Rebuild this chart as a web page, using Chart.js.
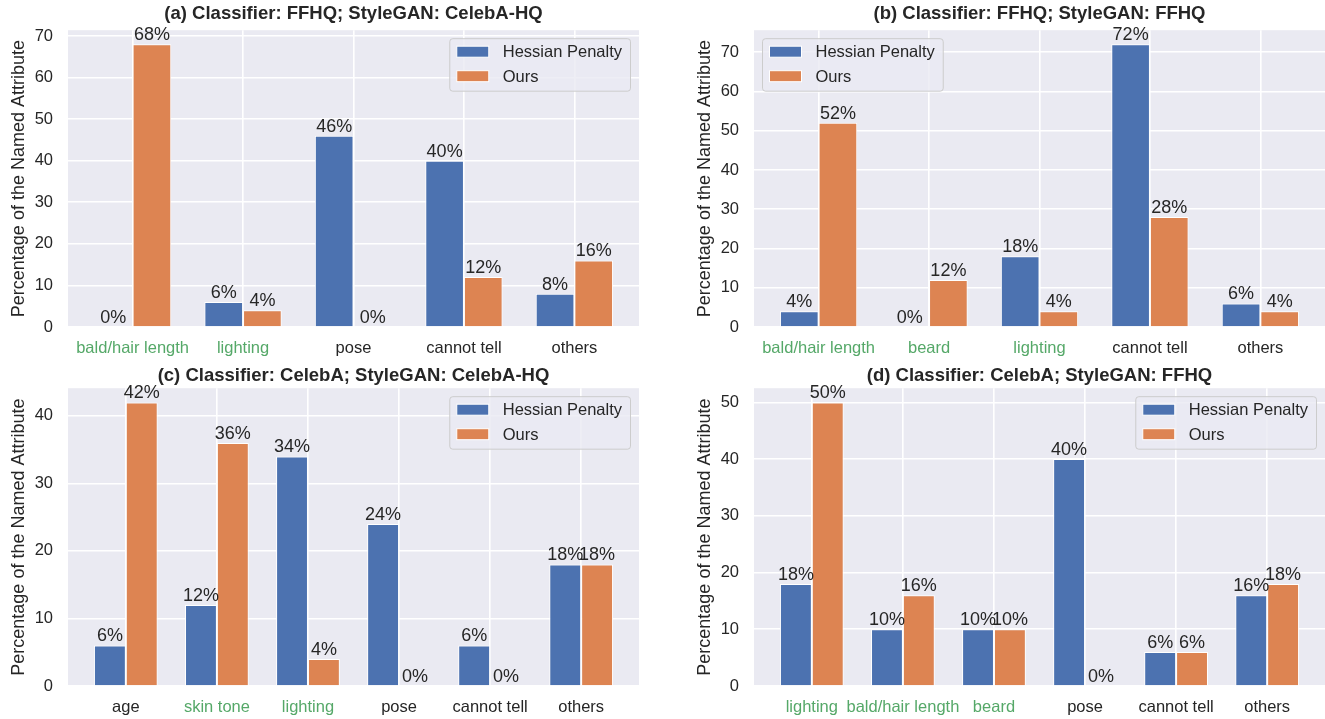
<!DOCTYPE html>
<html><head><meta charset="utf-8">
<script src="https://cdn.jsdelivr.net/npm/chart.js@4"></script>
<style>
html,body{margin:0;padding:0;background:#fff;width:1325px;height:719px;overflow:hidden;}
canvas{position:absolute;display:block;}
</style></head><body>
<canvas id="ca" width="660" height="357" style="left:0;top:0"></canvas>
<canvas id="cb" width="639" height="357" style="left:686px;top:0"></canvas>
<canvas id="cc" width="660" height="361" style="left:0;top:358px"></canvas>
<canvas id="cd" width="639" height="361" style="left:686px;top:358px"></canvas>
<script>
// ---- data ----
const seriesNames = ['Hessian Penalty', 'Ours'];

const titleA = '(a) Classifier: FFHQ; StyleGAN: CelebA-HQ';
const catsA = ['bald/hair length', 'lighting', 'pose', 'cannot tell', 'others'];
const greenA = [true, true, false, false, false];
const hessianA = [0, 6, 46, 40, 8];
const oursA = [68, 4, 0, 12, 16];

const titleB = '(b) Classifier: FFHQ; StyleGAN: FFHQ';
const catsB = ['bald/hair length', 'beard', 'lighting', 'cannot tell', 'others'];
const greenB = [true, true, true, false, false];
const hessianB = [4, 0, 18, 72, 6];
const oursB = [52, 12, 4, 28, 4];

const titleC = '(c) Classifier: CelebA; StyleGAN: CelebA-HQ';
const catsC = ['age', 'skin tone', 'lighting', 'pose', 'cannot tell', 'others'];
const greenC = [false, true, true, false, false, false];
const hessianC = [6, 12, 34, 24, 6, 18];
const oursC = [42, 36, 4, 0, 0, 18];

const titleD = '(d) Classifier: CelebA; StyleGAN: FFHQ';
const catsD = ['lighting', 'bald/hair length', 'beard', 'pose', 'cannot tell', 'others'];
const greenD = [true, true, true, false, false, false];
const hessianD = [18, 10, 10, 40, 6, 16];
const oursD = [50, 16, 10, 0, 6, 18];

const yLabel = 'Percentage of the Named Attribute';

// ---- style ----
const BLUE = '#4C72B0', ORANGE = '#DD8452', GREEN = '#55A868', DARK = '#262626', BG = '#EAEAF2';
const FAMILY = '"Liberation Sans", Arial, Helvetica, sans-serif';
Chart.defaults.font.family = FAMILY;
Chart.defaults.color = DARK;

const bgPlugin = {
  id: 'plotBg',
  beforeDraw(chart) {
    const {ctx, chartArea: a} = chart;
    ctx.save();
    ctx.fillStyle = BG;
    ctx.fillRect(a.left, a.top, a.right - a.left, a.bottom - a.top);
    ctx.restore();
  }
};

const valuePlugin = {
  id: 'valueLabels',
  afterDatasetsDraw(chart) {
    const ctx = chart.ctx;
    ctx.save();
    ctx.font = '18px ' + FAMILY;
    ctx.fillStyle = DARK;
    ctx.textAlign = 'center';
    ctx.textBaseline = 'alphabetic';
    chart.data.datasets.forEach((ds, di) => {
      const meta = chart.getDatasetMeta(di);
      meta.data.forEach((el, i) => {
        ctx.fillText(ds.data[i].y + '%', el.x, el.y - 4);
      });
    });
    ctx.restore();
  }
};

const legendPlugin = {
  id: 'innerLegend',
  afterDraw(chart, args, opts) {
    const {ctx, chartArea: a} = chart;
    ctx.save();
    ctx.font = '16.5px ' + FAMILY;
    const items = chart.data.datasets.map(d => ({label: d.label, color: d.backgroundColor}));
    const textW = Math.max(...items.map(it => ctx.measureText(it.label).width));
    const w = 7.5 + 32 + 14 + textW + 8;
    const h = 52.5;
    const x = opts.corner === 'left' ? a.left + 8 : a.right - 9 - w;
    const y = a.top + 8;
    ctx.beginPath();
    ctx.roundRect(x + 0.5, y + 0.5, w, h, 3);
    ctx.fillStyle = 'rgba(234,234,242,0.8)';
    ctx.fill();
    ctx.strokeStyle = '#CCCCCC';
    ctx.lineWidth = 1;
    ctx.stroke();
    items.forEach((it, i) => {
      const cy = y + 13.5 + i * 24.5;
      ctx.fillStyle = it.color;
      ctx.fillRect(x + 7.5, cy - 5.5, 32, 11);
      ctx.strokeStyle = '#FFFFFF';
      ctx.strokeRect(x + 7.5, cy - 5.5, 32, 11);
      ctx.fillStyle = DARK;
      ctx.textAlign = 'left';
      ctx.textBaseline = 'middle';
      ctx.fillText(it.label, x + 7.5 + 32 + 14, cy + 1);
    });
    ctx.restore();
  }
};

function makeChart(id, title, cats, green, hp, ours, corner, xAxisH, titlePad, padRight) {
  const n = cats.length;
  const range = (n - 1) + 0.7;
  const xmin = -0.35 - 0.05 * range;
  const xmax = (n - 1) + 0.35 + 0.05 * range;
  const ymax = Math.max(...hp, ...ours) * 1.05;
  const toXY = arr => arr.map((v, i) => ({x: i, y: v}));
  return new Chart(document.getElementById(id), {
    type: 'bar',
    data: {
      datasets: [
        {label: seriesNames[0], data: toXY(hp), backgroundColor: BLUE, borderColor: '#FFFFFF', borderWidth: 1, borderSkipped: 'start'},
        {label: seriesNames[1], data: toXY(ours), backgroundColor: ORANGE, borderColor: '#FFFFFF', borderWidth: 1, borderSkipped: 'start'}
      ]
    },
    options: {
      responsive: false,
      devicePixelRatio: 1,
      animation: false,
      events: [],
      categoryPercentage: 0.7,
      barPercentage: 1.0,
      layout: {padding: {left: 0, right: padRight, top: 0, bottom: 0}},
      plugins: {
        legend: {display: false},
        tooltip: {enabled: false},
        title: {
          display: true, text: title, fullSize: false,
          font: {size: 18.5, weight: 'bold'}, color: DARK,
          padding: titlePad
        },
        innerLegend: {corner: corner}
      },
      scales: {
        x: {
          type: 'linear', min: xmin, max: xmax, offset: false,
          afterBuildTicks: s => { s.ticks = cats.map((c, i) => ({value: i})); },
          afterFit: s => { s.height = xAxisH; },
          ticks: {
            autoSkip: false, maxRotation: 0, padding: 12,
            font: {size: 16.5},
            color: c => green[c.index] ? GREEN : DARK,
            callback: v => cats[v]
          },
          grid: {color: '#FFFFFF', lineWidth: 1.6, drawTicks: false, offset: false},
          border: {display: false}
        },
        y: {
          min: 0, max: ymax,
          afterFit: s => { s.width = 68; },
          ticks: {stepSize: 10, includeBounds: false, padding: 15, font: {size: 16.5}, color: DARK},
          grid: {color: '#FFFFFF', lineWidth: 1.6, drawTicks: false},
          border: {display: false},
          title: {display: true, text: yLabel, font: {size: 18}, color: DARK, padding: {top: 8, bottom: 0}}
        }
      }
    },
    plugins: [bgPlugin, valuePlugin, legendPlugin]
  });
}

makeChart('ca', titleA, catsA, greenA, hessianA, oursA, 'right', 30, {top: 3, bottom: 5}, 21);
makeChart('cb', titleB, catsB, greenB, hessianB, oursB, 'left', 30, {top: 3, bottom: 5}, 0);
makeChart('cc', titleC, catsC, greenC, hessianC, oursC, 'right', 33, {top: 7, bottom: 1}, 21);
makeChart('cd', titleD, catsD, greenD, hessianD, oursD, 'right', 33, {top: 7, bottom: 1}, 0);
</script>
</body></html>
